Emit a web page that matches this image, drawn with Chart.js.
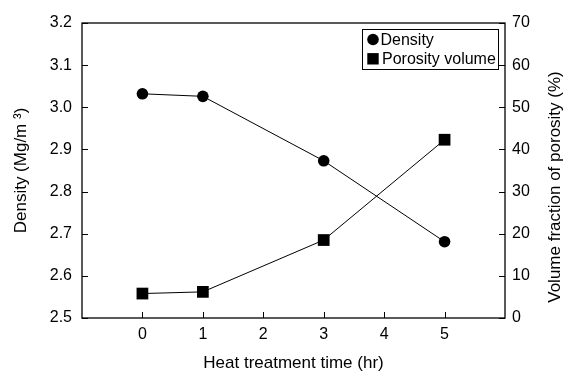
<!DOCTYPE html>
<html>
<head>
<meta charset="utf-8">
<script src="https://cdn.jsdelivr.net/npm/chart.js@4.4.1/dist/chart.umd.min.js"></script>
<style>
    body { margin: 0; background: #fff; }
    #wrap { width: 564px; height: 372px; }
</style>
</head>
<body>
<div id="wrap"><canvas id="heatChart"></canvas></div>
<script>
    // values
    const heatTimes = [0, 1, 3, 5];
    const densityValues = [3.032, 3.026, 2.873, 2.681];
    const porosityValues = [5.8, 6.2, 18.5, 42.3];
    const xTickValues = [0, 1, 2, 3, 4, 5];

    const FONT = "'Liberation Sans', Arial, sans-serif";

    function toPoints(xs, ys) {
        return xs.map((x, i) => ({ x: x, y: ys[i] }));
    }

    // box around the plot, inward ticks, boxed legend, right title
    const framePlugin = {
        id: "frame",
        afterDraw(chart) {
            let ctx = chart.ctx;
            let area = chart.chartArea;
            ctx.save();
            ctx.strokeStyle = "#000";
            ctx.lineWidth = 1.3;
            ctx.strokeRect(area.left, area.top, area.right - area.left, area.bottom - area.top);

            ctx.lineWidth = 1;
            ctx.beginPath();
            chart.scales.x.ticks.forEach(t => {
                let px = Math.round(chart.scales.x.getPixelForValue(t.value)) + 0.5;
                ctx.moveTo(px, area.bottom);
                ctx.lineTo(px, area.bottom - 6);
            });
            chart.scales.y.ticks.forEach(t => {
                let py = Math.round(chart.scales.y.getPixelForValue(t.value)) + 0.5;
                ctx.moveTo(area.left, py);
                ctx.lineTo(area.left + 6, py);
            });
            chart.scales.y2.ticks.forEach(t => {
                let py = Math.round(chart.scales.y2.getPixelForValue(t.value)) + 0.5;
                ctx.moveTo(area.right, py);
                ctx.lineTo(area.right - 6, py);
            });
            ctx.stroke();

            // legend
            let boxRight = area.right - 7;
            let boxLeft = boxRight - 136;
            let boxTop = area.top + 6;
            ctx.lineWidth = 1;
            ctx.strokeRect(boxLeft + 0.5, boxTop + 0.5, 136, 40);
            ctx.font = "16px " + FONT;
            ctx.textBaseline = "middle";
            ctx.textAlign = "left";
            ctx.fillStyle = "#000";
            chart.data.datasets.forEach((ds, i) => {
                let cy = boxTop + 10.5 + i * 19.3;
                let cx = boxLeft + 11;
                if (ds.pointStyle === "rect") {
                    ctx.fillRect(cx - 5.7, cy - 5.7, 11.4, 11.4);
                } else {
                    ctx.beginPath();
                    ctx.arc(cx, cy, 5.8, 0, Math.PI * 2);
                    ctx.fill();
                }
                ctx.fillText(ds.label, cx + 7.5 + i * 1.5, cy + 1);
            });

            // right axis title, reading bottom to top
            ctx.font = "17px " + FONT;
            ctx.textAlign = "center";
            ctx.translate(555, 187);
            ctx.rotate(-Math.PI / 2);
            ctx.fillText("Volume fraction of porosity (%)", 0, 0);
            ctx.restore();
        }
    };

    let ctx = document.getElementById("heatChart");
    let heatChart = new Chart(ctx, {
        type: "line",
        data: {
            datasets: [
                {
                    label: "Density",
                    data: toPoints(heatTimes, densityValues),
                    yAxisID: "y",
                    borderColor: "#000",
                    backgroundColor: "#000",
                    borderWidth: 1,
                    pointStyle: "circle",
                    pointRadius: 5.8,
                    pointBorderWidth: 0
                },
                {
                    label: "Porosity volume",
                    data: toPoints(heatTimes, porosityValues),
                    yAxisID: "y2",
                    borderColor: "#000",
                    backgroundColor: "#000",
                    borderWidth: 1,
                    pointStyle: "rect",
                    pointRadius: 8.3,
                    pointBorderWidth: 0
                }
            ]
        },
        options: {
            responsive: true,
            maintainAspectRatio: false,
            animation: false,
            layout: { padding: { top: 23, left: 0, right: 0, bottom: 0 } },
            plugins: {
                legend: { display: false },
                tooltip: { enabled: false }
            },
            scales: {
                x: {
                    type: "linear",
                    min: -1,
                    max: 6,
                    afterBuildTicks: scale => { scale.ticks = xTickValues.map(v => ({ value: v })); },
                    afterFit: scale => { scale.height = 54; },
                    grid: { display: false, drawTicks: false },
                    border: { display: false },
                    ticks: { color: "#000", padding: 7, font: { family: FONT, size: 16 } },
                    title: {
                        display: true,
                        text: "Heat treatment time (hr)",
                        color: "#000",
                        padding: { top: 0, bottom: 0 },
                        font: { family: FONT, size: 17, lineHeight: 1 }
                    }
                },
                y: {
                    position: "left",
                    min: 2.5,
                    max: 3.2,
                    afterFit: scale => { scale.width = 82; },
                    grid: { display: false, drawTicks: false },
                    border: { display: false },
                    ticks: {
                        stepSize: 0.1,
                        color: "#000",
                        padding: 10,
                        font: { family: FONT, size: 16 },
                        callback: v => v.toFixed(1)
                    },
                    title: {
                        display: true,
                        text: "Density (Mg/m \u00b3)",
                        color: "#000",
                        padding: { top: 11, bottom: 0 },
                        font: { family: FONT, size: 17 }
                    }
                },
                y2: {
                    position: "right",
                    min: 0,
                    max: 70,
                    afterFit: scale => { scale.width = 59; },
                    grid: { display: false, drawTicks: false },
                    border: { display: false },
                    ticks: { stepSize: 10, color: "#000", padding: 7, font: { family: FONT, size: 16 } }
                }
            }
        },
        plugins: [framePlugin]
    });
</script>
</body>
</html>
